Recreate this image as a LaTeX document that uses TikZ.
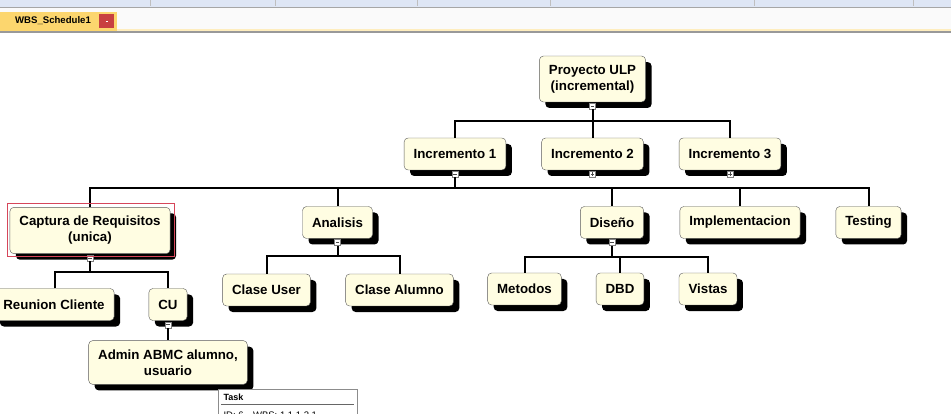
\documentclass[tikz,border=0pt]{standalone}
\usepackage{fontspec}
\setmainfont{Liberation Sans}
\usetikzlibrary{shadows}
\definecolor{boxfill}{RGB}{255,253,226}
\definecolor{barblue}{RGB}{222,230,245}
\definecolor{tabyellow}{RGB}{252,214,110}
\definecolor{closered}{RGB}{200,64,64}
\definecolor{selred}{RGB}{214,70,90}
\begin{document}
\begin{tikzpicture}[x=1pt,y=-1pt,
  task/.style={draw=black!65, fill=boxfill, rounded corners=4pt, align=center,
    inner xsep=9.5pt, inner ysep=9pt, minimum height=32pt,
    font=\bfseries\fontsize{13.3}{16}\selectfont,
    drop shadow={shadow xshift=6pt,shadow yshift=-6pt,fill=black,opacity=1}},
  less/.style={draw=black!50, fill=white, minimum size=6pt, inner sep=0pt,
    path picture={\draw[black!70,line width=0.6pt]
      ([xshift=1.3pt]path picture bounding box.west)--([xshift=-1.3pt]path picture bounding box.east);}},
  more/.style={less,
    path picture={\draw[black!70,line width=0.6pt]
      ([xshift=1.3pt]path picture bounding box.west)--([xshift=-1.3pt]path picture bounding box.east)
      ([yshift=-1.3pt]path picture bounding box.north)--([yshift=1.3pt]path picture bounding box.south);}},
  link/.style={line width=2pt}]
\useasboundingbox (0,0) rectangle (951,414);
\clip (0,0) rectangle (951,414);
% window bars
\fill[barblue] (0,0) rectangle (951,7);
\draw[black!35] (0,7.5)--(951,7.5);
\foreach \s in {150,275,417,550,754,913} \draw[black!25] (\s,0)--(\s,6);
\fill[black!2] (0,8) rectangle (951,30);
\fill[tabyellow!45] (0,29) rectangle (951,31);
\draw[black!40,line width=1.5pt] (0,32)--(951,32);
\fill[tabyellow] (0,12) rectangle (117,31);
\node[font=\bfseries\fontsize{9.6}{11}\selectfont] (tab) at (53,21) {WBS\_Schedule1};
\node[fill=closered, minimum width=15pt, minimum height=14pt, inner sep=0pt] (close) at (106.5,21) {};
\draw[white, line width=0.8pt] (105.5,21)--(107.5,21);
% tasks
\node[task] (proy) at (592.5,79) {Proyecto ULP\\(incremental)};
\node[task] (inc1) at (455,154) {Incremento 1};
\node[task] (inc2) at (592.5,154) {Incremento 2};
\node[task] (inc3) at (730,154) {Incremento 3};
\node[task] (cap) at (90,230.5) {Captura de Requisitos\\(unica)};
\node[task] (ana) at (337.5,222.5) {Analisis};
\node[task] (dis) at (612,222.5) {Diseño};
\node[task] (imp) at (740,222.5) {Implementacion};
\node[task] (tes) at (868.5,222.5) {Testing};
\node[task] (reu) at (54,304.5) {Reunion Cliente};
\node[task] (cu) at (168,304.5) {CU};
\node[task] (adm) at (168,362.5) {Admin ABMC alumno,\\usuario};
\node[task] (cuser) at (266.5,290) {Clase User};
\node[task] (calum) at (399.5,290) {Clase Alumno};
\node[task] (met) at (524.5,289) {Metodos};
\node[task] (dbd) at (620,289) {DBD};
\node[task] (vis) at (708,289) {Vistas};
% toggles
\node[less] (tproy) at ([yshift=-4pt]proy.south) {};
\node[less] (tinc1) at ([yshift=-4pt]inc1.south) {};
\node[more] (tinc2) at ([yshift=-4pt]inc2.south) {};
\node[more] (tinc3) at ([yshift=-4pt]inc3.south) {};
\node[less] (tcap) at ([yshift=-4pt]cap.south) {};
\node[less] (tana) at ([yshift=-4pt]ana.south) {};
\node[less] (tdis) at ([yshift=-4pt]dis.south) {};
\node[less] (tcu) at ([yshift=-4pt]cu.south) {};
% buses
\coordinate (bus0) at (592.5,121);
\coordinate (bus1) at (455,188);
\coordinate (bus2) at (90,272);
\coordinate (bus3) at (337.5,256);
\coordinate (bus4) at (612,257);
\draw[link] (tproy)--(bus0) (bus0)--(inc2.north);
\draw[link] (inc1.north) |- (bus0) -| (inc3.north);
\draw[link] (tinc1)--(bus1);
\draw[link] (cap.north) |- (bus1) -| (tes.north);
\draw[link] (ana.north |- bus1)--(ana.north);
\draw[link] (dis.north |- bus1)--(dis.north);
\draw[link] (imp.north |- bus1)--(imp.north);
\draw[link] (tcap)--(bus2);
\draw[link] ([xshift=1pt]reu.north) |- (bus2) -| (cu.north);
\draw[link] (tcu)--(adm);
\draw[link] (tana)--(bus3);
\draw[link] (cuser.north) |- (bus3) -| (calum.north);
\draw[link] (tdis)--(bus4);
\draw[link] (met.north) |- (bus4) -| (vis.north);
\draw[link] (dbd.north |- bus4)--(dbd.north);
% selection
\draw[selred, line width=0.9pt] ([shift={(-2pt,4pt)}]cap.north west) rectangle ([shift={(4pt,-3pt)}]cap.south east);
% tooltip
\draw[black!45, fill=white] (218,389) rectangle (357,430);
\node[anchor=west, font=\bfseries\fontsize{9}{10}\selectfont] (tiptitle) at (220,397) {Task};
\draw[black!60] (221,404)--(354,404);
\node[anchor=west, font=\fontsize{9.5}{11}\selectfont] (tipid) at (220,415) {ID: 6\quad WBS: 1.1.1.2.1};
\end{tikzpicture}
\end{document}
